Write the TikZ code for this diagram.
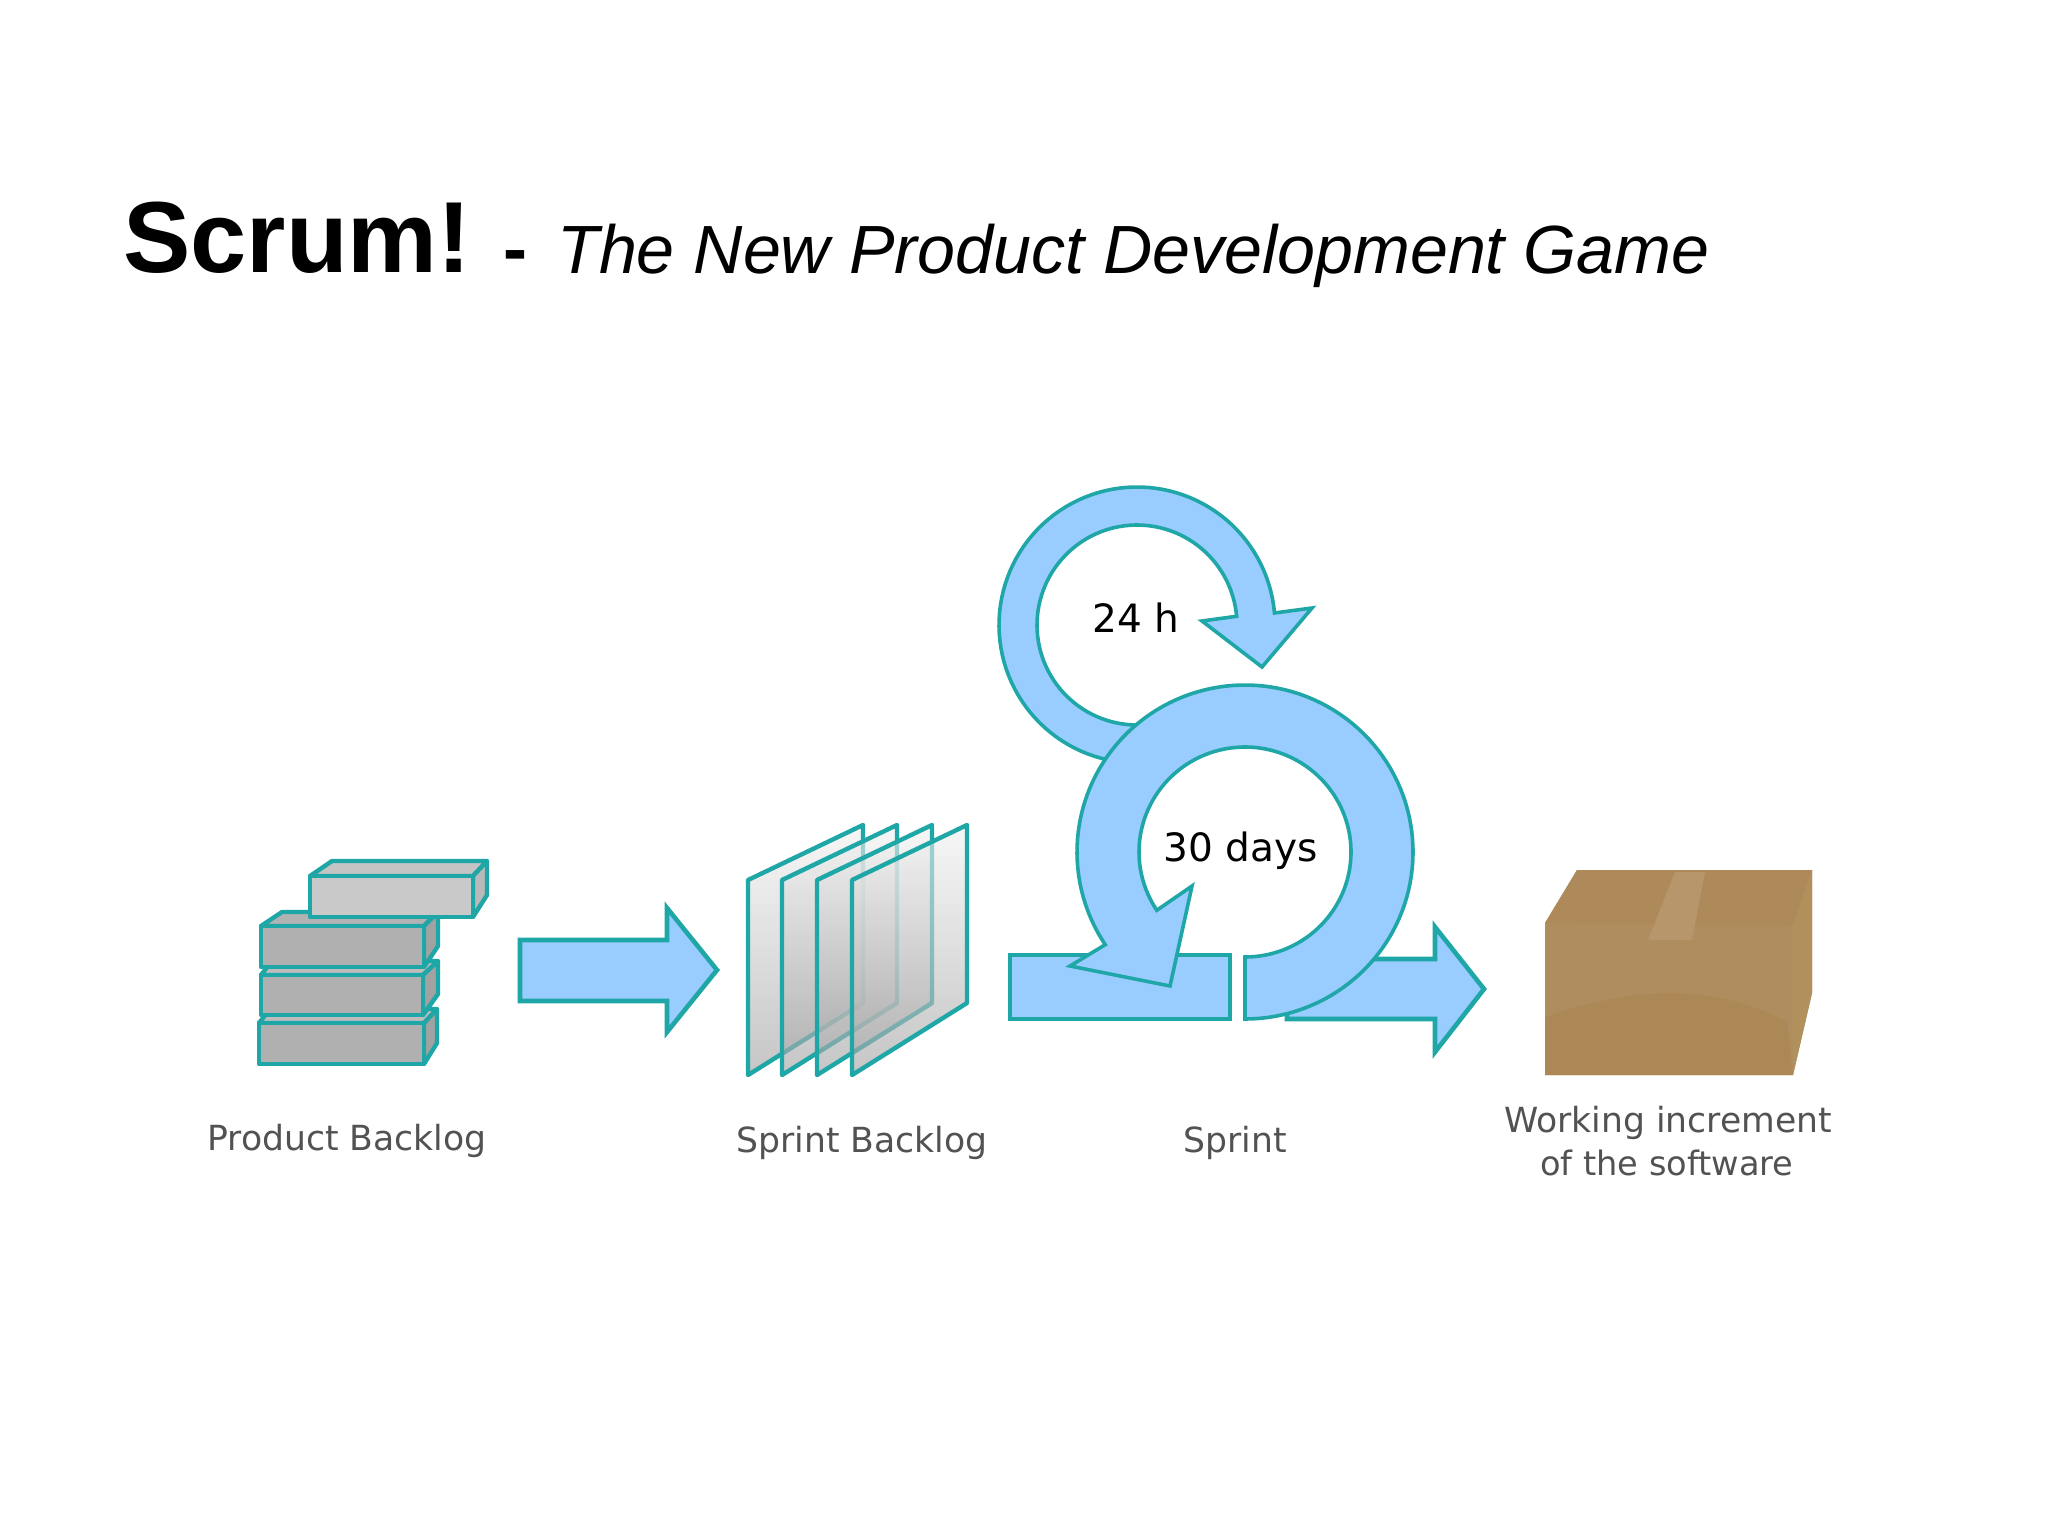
\documentclass[tikz,border=0pt]{standalone}
\usepackage{fontspec}
\setmainfont{Liberation Sans}
\newfontfamily\dvj{DejaVu Sans}
\definecolor{teal1}{HTML}{1FA6A6}
\definecolor{sky}{HTML}{99CCFF}
\definecolor{cardFront}{HTML}{B08D5E}
\definecolor{cardTop}{HTML}{AE8A5A}
\definecolor{cardLow}{HTML}{AC8857}
\definecolor{cardSide}{HTML}{B1905C}
\definecolor{cardTape}{HTML}{B7966B}
\tikzset{
  x=0.5pt,y=-0.5pt,
  flow/.style={draw=teal1,fill=sky,line width=2.3pt,line join=miter,miter limit=6},
  ring/.style={draw=teal1,fill=sky,line width=1.8pt,line join=miter,miter limit=6},
  edgeline/.style={draw=teal1,line width=2.2pt,line join=round},
  caption/.style={font=\dvj\fontsize{17.3}{22}\selectfont,text=black!68,inner sep=0pt},
  badge/.style={font=\dvj\fontsize{19.5}{24}\selectfont,text=black,inner sep=0pt},
}
\newcommand{\cuboid}[9]{%
  % x0,y0 front top-left; x1,y1 front bottom-right; right depth; rise; front colour; top colour; left depth
  \colorlet{frontc}{#7}%
  \fill[#8,edgeline] (#1,#2) -- ++(#9,-#6) -- (#3+#5,#2-#6) -- (#3,#2) -- cycle;
  \fill[frontc!92!black,edgeline] (#3,#2) -- ++(#5,-#6) -- ++(0,#4-#2-7) -- (#3,#4) -- cycle;
  \fill[frontc,edgeline] (#1,#2) rectangle (#3,#4);
}
\newcommand{\sheet}[1]{%
  \begin{scope}[shift={(#1,0)}]
    \shade[top color=black!5,bottom color=black!36,fill opacity=.62]
      (748,880) -- (863,825) -- (863,1003) -- (748,1075) -- cycle;
    \draw[edgeline] (748,880) -- (863,825) -- (863,1003) -- (748,1075) -- cycle;
  \end{scope}
}
\begin{document}
\begin{tikzpicture}
\useasboundingbox (0,0) rectangle (2048,1536);
\fill[white] (0,0) rectangle (2048,1536);

% Title
\node[anchor=base west,inner sep=0pt,font=\bfseries\fontsize{50.5}{60}\selectfont] (title) at (123,272) {Scrum!};
\node[anchor=base west,inner sep=0pt,font=\bfseries\fontsize{36}{40}\selectfont] (dash) at (503,273) {-};
\node[anchor=base west,inner sep=0pt,font=\itshape\fontsize{34.1}{40}\selectfont] (subtitle) at (557,273) {The New Product Development Game};

% Product backlog
\cuboid{259}{1023}{424}{1064}{13}{14}{black!31}{black!26}{11}
\cuboid{261}{975}{423}{1015}{15}{14}{black!31}{black!26}{11}
\cuboid{261}{926}{424}{967}{14}{14}{black!31}{black!30}{21}
\cuboid{310}{876}{473}{917}{14}{15}{black!21}{black!23}{22}

% Arrow to sprint backlog
\draw[flow] (520,940) -- (667,940) -- (667,908) -- (717,970) -- (667,1032) -- (667,1001) -- (520,1001) -- cycle;

% Sprint backlog sheets
\sheet{0}\sheet{34}\sheet{69}\sheet{104}

% Outgoing arrow (behind ring)
\draw[flow] (1287,1019) -- (1287,959) -- (1435,959) -- (1435,927) -- (1484,989) -- (1435,1052) -- (1435,1019) -- cycle;

% Sprint bar
\draw[flow] (1010,955) rectangle (1230,1019);

% 24 h loop
\draw[ring] (1137,763)
  -- plot[domain=270:5,samples=90] ({1137+138*cos(\x)},{625-138*sin(\x)})
  -- (1312,608) -- (1262,667) -- (1202,621)
  -- plot[domain=5:270,samples=90] ({1137+100*cos(\x)},{625-100*sin(\x)})
  -- cycle;

% 30 days loop
\draw[ring] (1245,1019)
  -- plot[domain=-90:213.7,samples=120] ({1245+168*cos(\x)},{852-167*sin(\x)})
  -- (1070,966) -- (1170,986) -- (1192,886)
  -- plot[domain=213.7:-90,samples=120] ({1245+106*cos(\x)},{852-105*sin(\x)})
  -- cycle;

\node[badge] (h24) at (1136,618) {24 h};
\node[badge] (d30) at (1241,851) {30 days};

% Product box
\fill[cardFront] (1545,923) -- (1577,870) -- (1812,870) -- (1812,993) -- (1793,1075) -- (1545,1075) -- cycle;
\fill[cardTop] (1545,923) -- (1577,870) -- (1812,870) -- (1793,925) -- cycle;
\fill[cardSide] (1793,925) -- (1812,870) -- (1812,993) -- (1793,1075) -- cycle;
\fill[cardLow] (1545,1017) .. controls (1610,995) and (1700,975) .. (1787,1022) -- (1793,1075) -- (1545,1075) -- cycle;
\fill[cardTape] (1675,872) -- (1705,872) -- (1692,940) -- (1648,940) -- cycle;

% Captions
\node[caption] (c1) at (347,1141) {Product Backlog};
\node[caption] (c2) at (862,1143) {Sprint Backlog};
\node[caption] (c3) at (1235,1143) {Sprint};
\node[caption] (c4a) at (1668,1123) {Working increment};
\node[caption,font=\dvj\fontsize{16.8}{22}\selectfont] (c4b) at (1667,1163) {of the software};
\end{tikzpicture}
\end{document}
